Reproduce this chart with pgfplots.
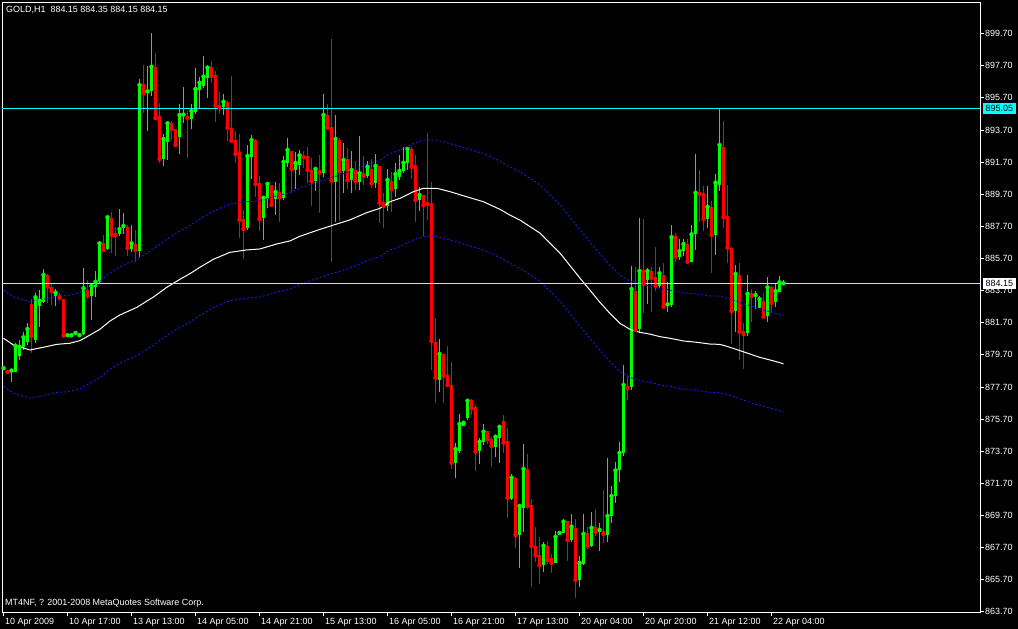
\documentclass[border=0pt]{standalone}
\usepackage{fontspec}
\setmainfont{Liberation Sans}
\usepackage{pgfplots}
\usepackage{pgfplotstable}
\pgfplotsset{compat=1.18}

\definecolor{bull}{RGB}{0,255,0}
\definecolor{bear}{RGB}{255,0,0}
\definecolor{envblue}{RGB}{25,25,215}
\definecolor{levelcyan}{RGB}{0,255,255}
\definecolor{bidline}{RGB}{235,235,90}

% hourly GOLD bars: index, open, high, low, close
\pgfplotstableread{
i o h l c
0 878.80 878.92 878.76 878.86
1 878.75 878.78 878.50 878.63
2 878.60 878.80 878.03 878.72
3 878.65 880.45 878.60 880.25
4 879.64 880.62 879.38 880.20
5 880.20 881.15 879.98 880.79
6 880.52 881.68 880.30 881.31
7 882.86 883.16 879.79 880.87
8 880.62 883.53 880.43 883.28
9 882.76 883.73 881.45 883.07
10 883.00 885.04 882.92 884.67
11 884.67 884.70 882.90 883.94
12 883.90 884.15 882.80 883.67
13 883.38 883.80 882.76 883.57
14 883.40 883.57 883.05 883.26
15 883.17 883.20 880.85 880.89
16 880.86 880.92 880.86 880.92
17 880.86 880.92 880.86 880.92
18 881.00 881.06 881.00 881.06
19 880.86 880.92 880.86 880.92
20 880.99 885.12 880.95 883.84
21 883.73 884.36 883.17 883.38
22 883.38 884.15 881.87 883.98
23 883.90 884.94 883.32 884.25
24 884.25 886.65 884.20 886.64
25 886.64 887.16 886.12 886.23
26 886.29 888.40 886.23 888.26
27 888.20 888.57 886.06 887.16
28 887.30 887.68 885.85 887.16
29 887.22 888.78 887.12 887.53
30 887.60 888.50 887.22 887.72
31 887.64 887.78 885.85 886.35
32 886.29 887.78 886.12 886.64
33 886.60 887.50 885.48 886.23
34 886.18 896.85 885.81 896.50
35 896.56 897.74 894.77 895.98
36 896.00 897.68 893.64 896.10
37 896.13 899.76 895.83 897.64
38 897.64 898.51 894.36 894.43
39 894.57 895.36 891.66 891.89
40 891.89 893.45 891.48 893.14
41 892.97 894.13 891.80 894.11
42 894.11 894.26 893.07 893.76
43 893.76 893.77 892.66 892.76
44 893.28 895.32 892.20 894.63
45 894.60 896.40 894.15 894.66
46 894.57 894.88 891.97 894.46
47 894.38 895.32 893.76 894.88
48 894.84 897.58 894.70 896.25
49 896.19 897.02 895.05 896.64
50 896.44 898.30 896.29 897.02
51 896.92 897.74 895.71 897.58
52 897.60 897.99 896.60 897.06
53 897.12 897.40 894.21 895.21
54 895.25 896.08 894.70 895.09
55 895.15 895.94 894.63 895.46
56 895.46 895.50 893.01 893.84
57 893.84 897.06 893.00 893.03
58 893.07 893.65 891.66 892.20
59 892.33 893.45 886.99 888.09
60 888.16 888.72 885.67 887.53
61 887.61 892.76 887.47 892.08
62 892.03 893.39 890.65 893.07
63 893.07 893.12 889.54 890.33
64 890.38 890.83 887.41 888.16
65 888.24 889.59 886.85 889.48
66 889.40 890.42 888.82 890.34
67 890.27 890.28 889.00 889.03
68 889.40 890.48 888.40 889.84
69 889.84 890.42 887.95 889.51
70 889.48 892.08 889.34 891.71
71 891.62 893.20 891.37 892.45
72 892.39 892.40 889.86 891.27
73 891.21 892.31 890.02 891.65
74 891.52 892.45 890.90 892.12
75 892.10 892.39 891.35 892.00
76 892.08 892.66 890.38 891.21
77 891.21 891.97 888.98 890.52
78 890.52 891.41 889.90 891.27
79 891.21 892.14 888.51 891.04
80 891.04 895.94 890.79 894.63
81 894.63 895.32 893.70 893.84
82 893.90 899.34 885.50 890.54
83 890.48 894.63 887.95 893.14
84 893.07 893.22 888.03 891.14
85 891.14 892.91 889.79 891.83
86 891.89 892.60 890.00 890.58
87 890.58 892.39 889.79 891.21
88 891.21 891.77 889.96 890.52
89 890.44 893.32 889.96 891.00
90 891.00 892.08 890.27 890.85
91 890.85 891.77 890.73 891.41
92 891.25 891.89 890.07 890.38
93 890.38 892.18 890.07 891.46
94 891.46 891.47 887.93 889.17
95 889.23 889.76 887.61 888.98
96 888.98 891.27 888.65 890.58
97 890.52 891.10 888.57 890.02
98 890.02 891.62 889.54 890.96
99 890.79 892.14 890.58 891.15
100 891.15 892.66 891.00 891.66
101 891.66 892.66 891.21 892.51
102 892.51 892.66 890.63 891.41
103 891.52 892.14 888.00 889.34
104 889.34 890.17 888.67 889.65
105 889.65 889.66 887.05 889.03
106 889.17 893.53 888.10 889.09
107 889.17 890.48 878.75 880.56
108 880.52 881.97 876.68 878.27
109 878.13 880.68 877.40 879.75
110 879.75 879.76 876.68 878.40
111 878.44 880.25 877.80 877.82
112 877.82 879.27 872.59 872.98
113 872.98 874.23 872.03 873.83
114 873.71 876.01 873.60 875.39
115 875.27 875.50 875.25 875.47
116 875.78 876.93 875.64 876.84
117 876.89 876.93 875.95 876.37
118 876.43 876.57 872.48 873.67
119 873.71 874.50 872.90 874.29
120 874.29 875.39 874.08 874.91
121 874.95 874.96 874.15 874.44
122 874.44 874.60 872.73 874.02
123 873.98 874.71 873.36 874.60
124 874.54 875.29 872.98 875.22
125 875.58 875.95 873.57 874.23
126 874.33 875.16 869.56 870.80
127 870.72 872.26 870.66 872.05
128 872.05 872.06 867.69 868.48
129 868.48 870.41 866.44 870.29
130 870.18 874.15 868.69 872.59
131 872.59 873.52 870.08 870.29
132 870.35 870.72 865.26 867.81
133 867.81 869.00 866.78 867.23
134 867.23 868.34 865.41 866.61
135 866.61 868.03 866.19 867.81
136 867.81 868.11 866.66 866.92
137 867.07 867.30 866.13 866.75
138 866.75 868.73 866.72 868.37
139 868.55 868.62 868.53 868.61
140 868.62 869.48 868.59 869.31
141 869.35 869.36 866.86 868.17
142 868.17 869.79 868.03 869.00
143 868.93 869.48 864.58 865.68
144 865.68 867.17 865.26 866.75
145 866.67 869.79 866.60 868.54
146 868.59 869.00 867.61 867.80
147 867.80 869.89 867.75 868.93
148 868.96 870.10 868.41 868.68
149 868.68 869.21 867.50 868.79
150 868.73 871.28 868.00 868.54
151 868.48 873.26 868.06 869.66
152 869.66 871.50 869.20 870.90
153 870.90 873.00 870.50 872.50
154 872.50 874.30 871.80 873.60
155 873.60 879.07 873.40 877.82
156 877.76 878.44 876.89 877.61
157 877.71 885.23 877.50 883.80
158 883.69 885.19 881.14 881.24
159 881.31 888.20 881.04 884.92
160 884.98 888.16 882.32 884.11
161 884.36 885.12 882.86 884.92
162 884.92 885.19 882.38 884.50
163 884.56 886.39 883.67 884.00
164 884.00 885.19 883.84 884.77
165 884.67 885.40 882.68 882.70
166 882.76 884.21 882.38 882.84
167 882.80 887.78 882.70 887.02
168 887.10 887.30 885.50 885.81
169 885.81 886.89 885.60 886.16
170 886.16 886.91 885.87 886.60
171 886.60 886.91 885.40 885.50
172 885.50 887.78 885.45 887.20
173 887.20 892.20 886.23 889.79
174 889.86 891.21 887.99 889.71
175 889.76 890.23 887.43 888.16
176 888.16 890.23 887.58 888.92
177 888.92 889.28 884.81 887.16
178 887.16 890.96 885.91 890.42
179 890.27 895.05 889.92 892.76
180 892.66 894.26 887.61 888.26
181 888.34 890.27 885.43 886.37
182 886.37 886.40 880.35 882.43
183 882.43 885.29 881.10 884.73
184 884.67 885.40 879.38 881.14
185 881.20 881.66 878.82 880.99
186 881.08 884.67 880.87 883.49
187 883.57 883.78 881.76 883.36
188 883.36 883.69 882.55 883.42
189 882.63 883.36 882.60 883.16
190 883.05 883.53 882.05 882.07
191 882.12 884.53 881.76 883.90
192 883.90 883.98 882.38 882.94
193 883.01 884.15 882.70 883.67
194 883.63 884.61 883.59 884.21
195 884.15 884.35 884.15 884.15
}\bars

% moving average with its +/- 3.00 envelope
\pgfplotstableread{
i ma up lo
0 880.73 883.73 877.73
2.5 880.31 883.31 877.31
6.6 880.00 883.00 877.00
10 880.17 883.17 877.17
13.3 880.35 883.35 877.35
16.6 880.42 883.42 877.42
19.1 880.58 883.58 877.58
21.6 880.93 883.93 877.93
24.1 881.29 884.29 878.29
26.6 881.80 884.80 878.80
29.1 882.18 885.18 879.18
33.3 882.65 885.65 879.65
37.5 883.30 886.30 880.30
40.8 883.90 886.90 880.90
44.1 884.40 887.40 881.40
46.6 884.75 887.75 881.75
49.1 885.15 888.15 882.15
52.5 885.65 888.65 882.65
56.6 886.08 889.08 883.08
58.3 886.14 889.14 883.14
60.8 886.23 889.23 883.23
64.1 886.29 889.29 883.29
68.3 886.60 889.60 883.60
71.6 886.79 889.79 883.79
74.1 887.08 890.08 884.08
79.1 887.51 890.51 884.51
82.5 887.78 890.78 884.78
86.6 888.10 891.10 885.10
90.8 888.55 891.55 885.55
94.1 888.82 891.82 885.82
96.6 889.23 892.23 886.23
99.1 889.44 892.44 886.44
102.5 889.86 892.86 886.86
105 890.07 893.07 887.07
108.3 890.07 893.07 887.07
111.6 889.86 892.86 886.86
115.8 889.54 892.54 886.54
120 889.23 892.23 886.23
124.1 888.76 891.76 885.76
126.6 888.40 891.40 885.40
129.1 888.09 891.09 885.09
134.1 887.28 890.28 884.28
139.1 886.04 889.04 883.04
144.1 884.48 887.48 881.48
146.6 883.73 886.73 880.73
149.1 882.97 885.97 879.97
151.6 882.28 885.28 879.28
154.1 881.66 884.66 878.66
156.6 881.29 884.29 878.29
159.1 881.10 884.10 878.10
161.6 880.99 883.99 877.99
164.1 880.83 883.83 877.83
166.6 880.73 883.73 877.73
170 880.56 883.56 877.56
173.3 880.48 883.48 877.48
176.6 880.37 883.37 877.37
179.1 880.35 883.35 877.35
181.6 880.17 883.17 877.17
184.1 879.96 882.96 876.96
186.6 879.75 882.75 876.75
189.1 879.54 882.54 876.54
191.6 879.38 882.38 876.38
194.1 879.21 882.21 876.21
195 879.13 882.13 876.13
}\envelope

\begin{document}
\begin{tikzpicture}
\fill[black] (0,0) rectangle (1018bp,629bp);
\useasboundingbox (0,0) rectangle (1018bp,629bp);
\begin{axis}[
  at={(2bp,17bp)}, anchor=south west,
  scale only axis, width=978bp, height=610bp,
  xmin=-0.375, xmax=244.125, ymin=863.685, ymax=901.668,
  axis line style={white, line width=0.8bp},
  tick style={white, line width=0.8bp},
  tick align=outside, major tick length=4bp,
  xtick pos=bottom, ytick pos=right, yticklabel pos=right,
  xtick={0,16,...,192},
  xticklabels={10 Apr 2009,10 Apr 17:00,13 Apr 13:00,14 Apr 05:00,14 Apr 21:00,15 Apr 13:00,16 Apr 05:00,16 Apr 21:00,17 Apr 13:00,20 Apr 04:00,20 Apr 20:00,21 Apr 12:00,22 Apr 04:00},
  ytick={863.7,865.7,867.7,869.7,871.7,873.7,875.7,877.7,879.7,881.7,883.7,885.7,887.7,889.7,891.7,893.7,895.7,897.7,899.7},
  tick label style={white, font=\fontsize{9}{10}\selectfont},
  xticklabel style={anchor=north west, xshift=0.5bp, yshift=-1bp, inner sep=1bp},
  yticklabel style={anchor=west, inner sep=1bp, /pgf/number format/.cd, fixed, fixed zerofill, precision=2, 1000 sep={}, assume math mode=true},
  clip=true,
]
% wicks
\addplot[bull, only marks, mark=none, forget plot,
  restrict expr to domain={\thisrow{c}-\thisrow{o}}{0:100},
  error bars/.cd, y dir=both, y explicit, error mark=none,
  error bar style={line width=1bp, bull}]
  table[x=i, y=c, y error plus expr=\thisrow{h}-\thisrow{c}, y error minus expr=\thisrow{c}-\thisrow{l}] {\bars};
\addplot[bear, only marks, mark=none, forget plot,
  restrict expr to domain={\thisrow{c}-\thisrow{o}}{-100:-0.001},
  error bars/.cd, y dir=both, y explicit, error mark=none,
  error bar style={line width=1bp, bear}]
  table[x=i, y=c, y error plus expr=\thisrow{h}-\thisrow{c}, y error minus expr=\thisrow{c}-\thisrow{l}] {\bars};
% bodies
\addplot[bull, only marks, mark=-, mark size=1.5bp, mark options={line width=1bp, bull}, forget plot,
  restrict expr to domain={\thisrow{c}-\thisrow{o}}{0:100},
  error bars/.cd, y dir=minus, y explicit, error mark=none,
  error bar style={line width=3bp, bull}]
  table[x=i, y=c, y error minus expr=\thisrow{c}-\thisrow{o}] {\bars};
\addplot[bear, only marks, mark=-, mark size=1.5bp, mark options={line width=1bp, bear}, forget plot,
  restrict expr to domain={\thisrow{c}-\thisrow{o}}{-100:-0.001},
  error bars/.cd, y dir=plus, y explicit, error mark=none,
  error bar style={line width=3bp, bear}]
  table[x=i, y=c, y error plus expr=\thisrow{o}-\thisrow{c}] {\bars};
% moving average and envelope
\addplot[white, line width=1bp, mark=none] table[x=i, y=ma] {\envelope};
\addplot[envblue, line width=1bp, mark=none, dash pattern=on 2bp off 2bp] table[x=i, y=up] {\envelope};
\addplot[envblue, line width=1bp, mark=none, dash pattern=on 2bp off 2bp] table[x=i, y=lo] {\envelope};
% horizontal levels
\addplot[levelcyan, line width=1bp, mark=none] coordinates {(-0.375,895.05) (244.125,895.05)};
\addplot[bidline, line width=1bp, mark=none] coordinates {(-0.375,884.15) (244.125,884.15)};
\coordinate (cyanlbl) at (axis cs:244.125,895.05);
\coordinate (bidlbl) at (axis cs:244.125,884.15);
\end{axis}
\node[anchor=west, xshift=3bp, fill=levelcyan, text=black, inner xsep=2.5bp, inner ysep=1.5bp, text height=7bp, text depth=1bp, font=\fontsize{9}{10}\selectfont] at (cyanlbl) {895.05};
\node[anchor=west, xshift=3bp, fill=white, text=black, inner xsep=2.5bp, inner ysep=1.5bp, text height=7bp, text depth=1bp, font=\fontsize{9}{10}\selectfont] at (bidlbl) {884.15};
\node[anchor=west, white, inner sep=0pt, font=\fontsize{9}{10}\selectfont] at (6bp,619bp) {GOLD,H1\ \ 884.15 884.35 884.15 884.15};
\node[anchor=west, white, inner sep=0pt, font=\fontsize{9}{10}\selectfont] at (5bp,26bp) {MT4NF, ? 2001-2008 MetaQuotes Software Corp.};
\end{tikzpicture}
\end{document}
